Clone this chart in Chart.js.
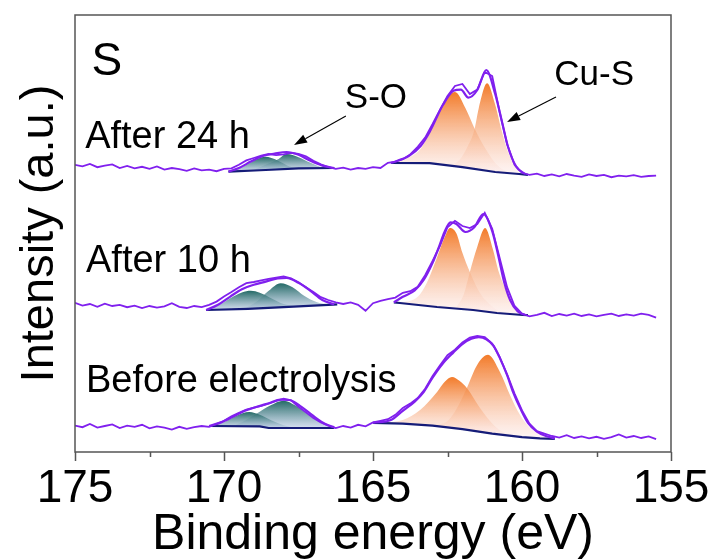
<!DOCTYPE html>
<html lang="en">
<head>
<meta charset="UTF-8">
<title>S 2p XPS</title>
<script src="https://cdn.jsdelivr.net/npm/chart.js"></script>
<style>
  html, body { margin: 0; padding: 0; background: #ffffff; }
  canvas { display: block; }
</style>
</head>
<body>
<canvas id="xps" width="715" height="560"></canvas>
<script>
// binding energy grid of the measured spectra (eV)
const energy = [
  175.00, 174.75, 174.50, 174.25, 174.00, 173.75, 173.50, 173.25, 173.00, 172.75,
  172.50, 172.25, 172.00, 171.75, 171.50, 171.25, 171.00, 170.75, 170.50, 170.25,
  170.00, 169.75, 169.50, 169.25, 169.00, 168.75, 168.50, 168.25, 168.00, 167.75,
  167.50, 167.25, 167.00, 166.75, 166.50, 166.25, 166.00, 165.75, 165.50, 165.25,
  165.00, 164.75, 164.50, 164.25, 164.00, 163.75, 163.50, 163.25, 163.00, 162.75,
  162.50, 162.25, 162.00, 161.75, 161.50, 161.25, 161.00, 160.75, 160.50, 160.25,
  160.00, 159.75, 159.50, 159.25, 159.00, 158.75, 158.50, 158.25, 158.00, 157.75,
  157.50, 157.25, 157.00, 156.75, 156.50, 156.25, 156.00, 155.75, 155.50
];

// measured intensity, stacked with offsets (a.u.)
const raw24h = [
  71.8, 71.4, 72.0, 71.2, 71.6, 71.9, 71.0, 71.5, 70.9, 71.3,
  70.8, 71.4, 70.6, 71.0, 70.7, 70.3, 70.9, 70.4, 70.6, 70.2,
  70.8, 70.9, 71.8, 72.9, 73.5, 74.1, 74.5, 74.2, 74.4, 74.8,
  74.5, 73.9, 72.8, 71.9, 71.2, 70.8, 71.1, 70.6, 71.0, 70.8,
  71.2, 71.0, 72.3, 72.6, 73.2, 74.4, 76.3, 78.6, 82.0, 85.6,
  89.0, 91.5, 92.0, 89.5, 90.6, 95.0, 94.0, 85.0, 77.0, 71.8,
  69.8, 69.3, 69.6, 69.0, 69.4, 68.9, 69.5, 69.1, 68.8, 69.4,
  69.0, 69.3, 68.7, 69.1, 68.9, 69.2, 68.8, 69.0, 69.1
];
const raw10h = [
  37.3, 36.6, 37.0, 36.3, 37.1, 36.5, 36.8, 36.2, 36.6, 36.0,
  36.5, 36.1, 36.4, 37.2, 36.3, 36.0, 36.5, 36.2, 36.8, 37.6,
  38.9, 40.0, 41.2, 42.2, 42.5, 42.9, 43.3, 43.6, 43.9, 43.4,
  42.4, 41.2, 40.0, 38.7, 38.0, 37.4, 37.0, 37.4, 36.8, 35.3,
  37.2, 37.8, 38.2, 38.6, 39.8, 40.2, 41.3, 44.2, 47.8, 51.6,
  56.2, 57.8, 56.5, 56.0, 57.0, 59.8, 55.8, 48.5, 41.2, 36.5,
  34.6, 33.9, 34.3, 34.8, 34.0, 34.5, 34.1, 34.6, 34.0, 34.4,
  33.9, 34.3, 34.6, 34.0, 34.4, 34.1, 34.6, 34.3, 33.6
];
const rawBefore = [
  6.6, 6.2, 7.0, 6.1, 6.5, 6.9, 6.0, 6.6, 6.3, 6.8,
  5.9, 6.4, 6.1, 5.6, 6.3, 5.8, 6.2, 6.5, 6.3, 7.0,
  7.8, 8.9, 9.8, 10.6, 11.1, 11.5, 12.1, 12.8, 13.3, 12.9,
  11.3, 9.9, 8.5, 7.4, 6.6, 6.0, 6.5, 6.1, 6.8, 6.4,
  7.4, 7.8, 8.2, 9.3, 11.0, 12.1, 13.5, 15.8, 19.0, 21.7,
  24.2, 25.6, 27.4, 28.6, 29.0, 28.7, 27.1, 23.8, 19.4, 14.6,
  10.4, 7.1, 5.2, 4.6, 4.0, 3.6, 4.2, 3.5, 3.9, 3.4,
  3.8, 3.3, 3.7, 4.4, 3.6, 4.0, 3.5, 3.9, 3.2
];

// fitted curves: [energy, intensity]
// After 24 h
const env24hSO  = [[169.85,70.1],[169.5,71.0],[169.1,72.6],[168.7,74.0],[168.3,74.6],[167.9,75.0],[167.5,74.3],[167.1,72.8],[166.7,71.6],[166.3,71.0]];
const bg24hSO   = [[169.85,70.1],[168.6,70.5],[167.5,70.9],[166.3,71.0]];
const so1_24h   = [[169.85,70.1],[169.5,70.8],[169.1,72.4],[168.62,73.8],[168.2,72.9],[167.8,71.4],[167.4,70.95]];
const so2_24h   = [[169.0,70.5],[168.6,71.8],[168.2,73.1],[167.9,74.5],[167.5,73.7],[167.1,72.3],[166.7,71.2],[166.3,71.0]];
const env24hCuS = [[164.4,72.25],[163.8,74.0],[163.4,76.5],[163.1,80.0],[162.65,86.8],[162.3,90.3],[162.05,90.6],[161.8,88.6],[161.5,90.5],[161.2,95.5],[160.9,89.5],[160.67,82.5],[160.47,76.3],[160.2,71.4],[159.9,69.5]];
const bg24hCuS  = [[164.4,72.25],[163.1,72.2],[162.0,71.2],[160.9,70.0],[160.1,69.5],[159.8,69.3]];
const cusA_24h  = [[164.3,72.25],[163.8,73.6],[163.4,75.8],[163.0,81.5],[162.65,86.8],[162.25,90.0],[161.9,86.0],[161.6,81.0],[161.2,75.5],[160.85,71.9],[160.5,70.0]];
const cusB_24h  = [[162.4,71.5],[162.1,73.0],[161.85,76.0],[161.6,80.5],[161.45,86.0],[161.17,92.2],[160.9,86.8],[160.67,80.0],[160.47,75.0],[160.2,71.2],[159.95,69.6]];

// After 10 h
const env10hSO  = [[170.6,35.5],[170.2,36.8],[169.8,38.8],[169.4,40.7],[169.0,41.8],[168.6,42.6],[168.2,43.4],[167.9,43.5],[167.5,42.3],[167.1,40.3],[166.7,38.0],[166.3,36.9]];
const bg10hSO   = [[170.6,35.5],[169.2,35.8],[168.0,36.2],[166.5,36.8],[166.2,36.9]];
const so1_10h   = [[170.6,35.5],[170.2,36.6],[169.8,38.4],[169.4,39.9],[169.1,40.3],[168.8,39.8],[168.4,38.4],[168.0,37.0],[167.6,36.45]];
const so2_10h   = [[169.3,35.9],[168.9,37.6],[168.5,40.3],[168.1,42.2],[167.7,41.2],[167.3,39.0],[166.9,37.5],[166.5,36.85]];
const env10hCuS = [[164.3,37.4],[164.0,38.8],[163.6,40.4],[163.3,43.0],[163.0,47.3],[162.8,51.0],[162.6,55.0],[162.4,57.4],[162.2,57.0],[161.9,55.0],[161.6,56.2],[161.3,59.5],[161.0,55.2],[160.8,49.2],[160.6,42.5],[160.4,38.0],[160.15,35.2],[159.9,34.25]];
const bg10hCuS  = [[164.3,37.4],[164.1,37.25],[162.85,36.25],[161.64,35.5],[160.84,34.75],[159.97,34.25],[159.8,34.2]];
const cusA_10h  = [[164.1,37.25],[163.5,38.8],[163.2,42.2],[162.85,48.7],[162.6,53.6],[162.42,56.0],[162.2,54.6],[162.0,49.8],[161.75,45.0],[161.4,39.6],[161.0,36.4],[160.7,35.0]];
const cusB_10h  = [[162.2,36.2],[161.95,39.5],[161.75,45.0],[161.5,51.3],[161.24,56.0],[160.97,50.5],[160.8,45.5],[160.57,41.0],[160.3,36.8],[160.07,34.6],[159.9,34.25]];

// Before electrolysis
const envBeforeSO  = [[170.5,6.5],[170.1,7.4],[169.7,8.8],[169.3,10.3],[168.9,11.3],[168.5,12.2],[168.1,13.1],[167.8,13.0],[167.4,11.3],[167.0,9.0],[166.6,7.0],[166.3,6.2]];
const bgBeforeSO   = [[170.5,6.5],[168.8,6.4],[168.5,6.0],[166.3,6.0]];
const so1_before   = [[170.5,6.5],[170.0,7.5],[169.6,9.0],[169.15,10.0],[168.8,9.3],[168.4,7.9],[168.0,6.7],[167.6,6.05]];
const so2_before   = [[169.7,6.45],[169.3,7.8],[168.9,9.6],[168.45,11.6],[168.0,12.8],[167.6,11.6],[167.2,9.6],[166.8,7.6],[166.4,6.1]];
const envBeforeCuS = [[165.0,7.3],[164.4,8.0],[164.0,10.3],[163.6,12.6],[163.3,15.0],[163.0,18.6],[162.65,22.2],[162.3,24.9],[162.0,27.0],[161.7,28.3],[161.45,28.7],[161.2,28.2],[160.95,26.5],[160.75,23.6],[160.5,19.2],[160.3,15.0],[160.05,10.8],[159.8,7.3],[159.5,5.1],[159.2,4.0],[158.9,3.4]];
const bgBeforeCuS  = [[165.0,7.3],[164.0,7.1],[163.0,6.6],[162.0,5.7],[161.0,4.6],[160.0,3.7],[159.4,3.4],[158.9,3.3]];
const cusA_before  = [[164.7,7.3],[164.0,8.0],[163.42,10.5],[162.85,15.0],[162.6,17.5],[162.35,18.75],[162.1,17.8],[161.85,16.0],[161.41,11.0],[160.97,6.9],[160.6,4.9],[160.3,4.2]];
const cusB_before  = [[163.0,6.7],[162.52,7.6],[162.18,11.0],[161.85,16.0],[161.51,21.7],[161.14,24.3],[160.74,20.0],[160.4,14.2],[160.07,9.3],[159.73,6.0],[159.4,4.5],[159.1,3.5]];

// text and arrows, placed in axis units
const notes = [
  { text: 'S', e: 173.93, v: 94.25, size: 46, align: 'center' },
  { text: 'S-O', e: 164.9, v: 86.0, size: 35, align: 'center' },
  { text: 'Cu-S', e: 157.58, v: 91.75, size: 35, align: 'center' },
  { text: 'After 24 h', e: 174.66, v: 76.0, size: 38, align: 'left' },
  { text: 'After 10 h', e: 174.63, v: 45.0, size: 38, align: 'left' },
  { text: 'Before electrolysis', e: 174.63, v: 15.0, size: 38, align: 'left' }
];
const arrows = [
  { from: [165.91, 84.0], to: [167.65, 76.75] },
  { from: [158.86, 88.75], to: [160.5, 82.5] }
];

const FONT = '"Liberation Sans", Arial, sans-serif';
const PURPLE = '#8020ee';
const NAVY = '#151c78';

const pts = arr => arr.map(([x, y]) => ({ x, y }));
const onGrid = vals => vals.map((y, i) => ({ x: energy[i], y }));

// vertical gradient from the top of a peak down to its foot
function shade(top, bottom) {
  return ctx => {
    const chart = ctx.chart;
    if (!chart.chartArea || !ctx.dataset) return top;
    const ys = ctx.dataset.data.map(p => p.y);
    const y0 = chart.scales.y.getPixelForValue(Math.max(...ys));
    const y1 = chart.scales.y.getPixelForValue(Math.min(...ys));
    const g = chart.ctx.createLinearGradient(0, y0, 0, y1 + 1);
    g.addColorStop(0, top);
    g.addColorStop(1, bottom);
    return g;
  };
}
const orange = shade('rgba(242,116,30,0.95)', 'rgba(253,238,238,0.55)');
const teal = shade('rgba(24,98,94,0.95)', 'rgba(205,216,240,0.75)');

const datasets = [];
function add(ds) {
  datasets.push(Object.assign({ pointRadius: 0, borderWidth: 2, fill: false }, ds));
  return datasets.length - 1;
}

// raw spectra on top
[raw24h, raw10h, rawBefore].forEach(r => add({ data: onGrid(r), borderColor: PURPLE, borderWidth: 1.8 }));

// fit envelopes
[env24hSO, env24hCuS, env10hSO, env10hCuS, envBeforeSO, envBeforeCuS].forEach(e =>
  add({ data: pts(e), borderColor: PURPLE, borderWidth: 2.2, cubicInterpolationMode: 'monotone' }));

// backgrounds and their components
const groups = [
  [bg24hSO, [so1_24h, so2_24h], teal],
  [bg24hCuS, [cusA_24h, cusB_24h], orange],
  [bg10hSO, [so1_10h, so2_10h], teal],
  [bg10hCuS, [cusA_10h, cusB_10h], orange],
  [bgBeforeSO, [so1_before, so2_before], teal],
  [bgBeforeCuS, [cusA_before, cusB_before], orange]
];
const bgIndex = groups.map(([bg]) => add({ data: pts(bg), borderColor: NAVY, borderWidth: 2.2 }));
groups.forEach(([, comps, fillStyle], gi) => {
  comps.forEach(c => add({
    data: pts(c),
    borderWidth: 0,
    borderColor: 'rgba(0,0,0,0)',
    backgroundColor: fillStyle,
    cubicInterpolationMode: 'monotone',
    fill: { target: bgIndex[gi] }
  }));
});

// frame, tick marks, labels and arrows
const decor = {
  id: 'decor',
  afterDatasetsDraw(chart) {
    const { ctx, chartArea: a, scales: { x, y } } = chart;
    ctx.save();
    ctx.strokeStyle = '#555';
    ctx.lineWidth = 1.5;
    ctx.strokeRect(a.left, a.top, a.right - a.left, a.bottom - a.top);

    ctx.beginPath();
    for (let e = 155; e <= 175; e += 2.5) {
      const px = Math.round(x.getPixelForValue(e)) + 0.5;
      const len = e % 5 === 0 ? 9 : 5;
      ctx.moveTo(px, a.bottom);
      ctx.lineTo(px, a.bottom + len);
    }
    ctx.stroke();

    ctx.fillStyle = '#000';
    ctx.textBaseline = 'alphabetic';
    notes.forEach(n => {
      ctx.font = n.size + 'px ' + FONT;
      ctx.textAlign = n.align;
      ctx.fillText(n.text, x.getPixelForValue(n.e), y.getPixelForValue(n.v));
    });

    ctx.strokeStyle = '#000';
    ctx.lineWidth = 1.1;
    arrows.forEach(ar => {
      const x0 = x.getPixelForValue(ar.from[0]), y0 = y.getPixelForValue(ar.from[1]);
      const x1 = x.getPixelForValue(ar.to[0]), y1 = y.getPixelForValue(ar.to[1]);
      const ang = Math.atan2(y1 - y0, x1 - x0);
      const hl = 13, hw = 4.5;
      const bx = x1 - hl * Math.cos(ang), by = y1 - hl * Math.sin(ang);
      ctx.beginPath();
      ctx.moveTo(x0, y0);
      ctx.lineTo(bx, by);
      ctx.stroke();
      ctx.beginPath();
      ctx.moveTo(x1, y1);
      ctx.lineTo(bx + hw * Math.sin(ang), by - hw * Math.cos(ang));
      ctx.lineTo(bx - hw * Math.sin(ang), by + hw * Math.cos(ang));
      ctx.closePath();
      ctx.fill();
    });
    ctx.restore();
  }
};

new Chart(document.getElementById('xps'), {
  type: 'line',
  data: { datasets },
  plugins: [decor],
  options: {
    responsive: false,
    animation: false,
    devicePixelRatio: 1,
    layout: { padding: { top: 15, right: 44, bottom: 0, left: 0 } },
    plugins: { legend: { display: false }, tooltip: { enabled: false } },
    elements: { line: { tension: 0 } },
    scales: {
      x: {
        type: 'linear',
        reverse: true,
        min: 155,
        max: 175,
        grid: { display: false },
        border: { display: false },
        ticks: { stepSize: 5, color: '#000', padding: 2, maxRotation: 0, autoSkip: false,
                 font: { size: 46, family: FONT } },
        title: { display: true, text: 'Binding energy (eV)', color: '#000', padding: { top: 0, bottom: -5 },
                 font: { size: 50, family: FONT } },
        afterFit: s => { s.height = 108; s.paddingLeft = 0; s.paddingRight = 0; }
      },
      y: {
        min: 0,
        max: 109.25,
        grid: { display: false },
        border: { display: false },
        ticks: { display: false },
        title: { display: true, text: 'Intensity (a.u.)', color: '#000', padding: { top: 12 },
                 font: { size: 47, family: FONT } },
        afterFit: s => { s.width = 75; }
      }
    }
  }
});
</script>
</body>
</html>
